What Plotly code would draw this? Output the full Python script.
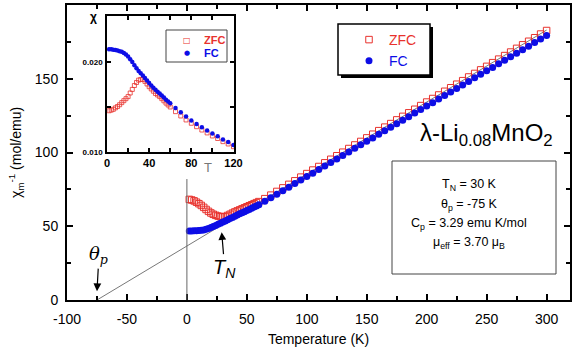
import plotly.graph_objects as go

# ---------------- data ----------------
# main panel: inverse susceptibility (mol/emu) vs temperature (K)
TEMP_LOW = [2, 4, 6, 8, 10, 12, 14, 16, 18, 20, 22, 24, 26, 28, 30,
            32, 34, 36, 38, 40, 42, 44, 46, 48, 50, 52, 54, 56, 58, 60]
TEMP_HIGH = [65, 70, 75, 80, 85, 90, 95, 100, 105, 110, 115, 120, 125, 130,
             135, 140, 145, 150, 155, 160, 165, 170, 175, 180, 185, 190, 195,
             200, 205, 210, 215, 220, 225, 230, 235, 240, 245, 250, 255, 260,
             265, 270, 275, 280, 285, 290, 295, 300]

ZFC_INV_LOW = [68.2, 67.8, 67.2, 66.3, 65.3, 64.1, 62.8, 61.4, 60.1, 59.0,
               58.1, 57.4, 56.9, 56.5, 56.3, 56.6, 57.3, 58.1, 58.9, 59.7,
               60.4, 61.1, 61.8, 62.5, 63.2, 63.9, 64.6, 65.3, 66.0, 66.7]
FC_INV_LOW = [46.8, 46.8, 46.9, 47.0, 47.1, 47.3, 47.5, 47.9, 48.5, 49.2,
              49.8, 50.5, 51.3, 52.0, 52.8, 53.6, 54.4, 55.2, 56.0, 56.8,
              57.6, 58.4, 59.1, 59.9, 60.6, 61.4, 62.2, 63.0, 63.7, 64.5]
ZFC_INV_HIGH = [68.7, 71.1, 73.6, 76.0, 78.4, 80.8, 83.3, 85.7, 88.1, 90.5,
                93.0, 95.4, 97.8, 100.2, 102.7, 105.1, 107.5, 109.9, 112.4,
                114.8, 117.2, 119.6, 122.1, 124.5, 126.9, 129.3, 131.8, 134.2,
                136.6, 139.0, 141.5, 143.9, 146.3, 148.7, 151.2, 153.6, 156.0,
                158.4, 160.9, 163.3, 165.7, 168.1, 170.6, 173.0, 175.4, 177.8,
                180.3, 182.7]
FC_INV_HIGH = [66.9, 69.3, 71.7, 74.1, 76.5, 78.9, 81.3, 83.7, 86.0, 88.4,
               90.8, 93.2, 95.6, 98.0, 100.4, 102.8, 105.2, 107.6, 109.9,
               112.3, 114.7, 117.1, 119.5, 121.9, 124.3, 126.7, 129.1, 131.5,
               133.8, 136.2, 138.6, 141.0, 143.4, 145.8, 148.2, 150.6, 153.0,
               155.4, 157.7, 160.1, 162.5, 164.9, 167.3, 169.7, 172.1, 174.5,
               176.9, 179.3]

# Curie-Weiss guide line
FIT_T = [-75, 300]
FIT_INV = [0, 183]

# inset: susceptibility chi vs T
INSET_T = [2, 4, 6, 8, 10, 12, 14, 16, 18, 20, 22, 24, 26, 28, 30,
           32, 34, 36, 38, 40, 42, 44, 46, 48, 50, 52, 54, 56, 58, 60,
           65, 70, 75, 80, 85, 90, 95, 100, 105, 110, 115, 120]
INSET_FC = [0.02141, 0.02140, 0.02136, 0.02132, 0.02127, 0.02120, 0.02113,
            0.02100, 0.02082, 0.02060, 0.02030, 0.01998, 0.01963, 0.01930,
            0.01900, 0.01875, 0.01850, 0.01822, 0.01794, 0.01765, 0.01737,
            0.01712, 0.01690, 0.01670, 0.01650, 0.01628, 0.01605, 0.01580,
            0.01560, 0.01540,
            0.01488, 0.01440, 0.01395, 0.01350, 0.01310, 0.01274, 0.01240,
            0.01205, 0.01175, 0.01140, 0.01110, 0.01078]
INSET_ZFC = [0.01458, 0.01465, 0.01474, 0.01490, 0.01505, 0.01525, 0.01548,
             0.01570, 0.01592, 0.01615, 0.01655, 0.01695, 0.01738, 0.01772,
             0.01798, 0.01806, 0.01805, 0.01784, 0.01755, 0.01725, 0.01700,
             0.01675, 0.01650, 0.01633, 0.01615, 0.01592, 0.01568, 0.01543,
             0.01522, 0.01500,
             0.01448, 0.01400, 0.01356, 0.01319, 0.01281, 0.01244, 0.01212,
             0.01178, 0.01150, 0.01115, 0.01089, 0.01059]

X_TICKS = [-100, -50, 0, 50, 100, 150, 200, 250, 300]
X_TICK_TEXT = ["-100", "-50", "0", "50", "100", "150", "200", "250", "300"]
Y_TICKS = [0, 50, 100, 150, 200]
INSET_X_TICKS = [0, 20, 40, 60, 80, 100, 120]
INSET_X_TEXT = ["0", "", "40", "", "80", "", "120"]
INSET_Y_TICKS = [0.010, 0.015, 0.020, 0.025]
INSET_Y_TEXT = ["0.010", "", "0.020", ""]

T_N = 30
THETA_P = -75

# ---------------- styling ----------------
FONT = "Arial, Liberation Sans, sans-serif"
RED = "#e8322d"
BLUE = "#0d0de6"

W, H = 572, 352
ML, MR, MT, MB = 67, 2, 5, 52
PW, PH = W - ML - MR, H - MT - MB


def px(x):
    return (x - ML) / PW


def py(y):
    return (H - MB - y) / PH


fig = go.Figure()

fig.add_trace(go.Scatter(
    x=FIT_T, y=FIT_INV, mode="lines", line=dict(color="#555555", width=0.8),
    showlegend=False, hoverinfo="skip"))

fig.add_trace(go.Scatter(
    x=TEMP_LOW + TEMP_HIGH, y=ZFC_INV_LOW + ZFC_INV_HIGH, mode="markers",
    name="<span style='color:%s'>ZFC</span>" % RED,
    marker=dict(symbol="square-open", size=6.5, color=RED, line=dict(width=1))))
fig.add_trace(go.Scatter(
    x=TEMP_LOW + TEMP_HIGH, y=FC_INV_LOW + FC_INV_HIGH, mode="markers",
    name="<span style='color:%s'>FC</span>" % BLUE,
    marker=dict(symbol="circle", size=7, color=BLUE)))

fig.add_trace(go.Scatter(
    x=INSET_T, y=INSET_ZFC, mode="markers", xaxis="x2", yaxis="y2",
    showlegend=False, name="ZFC",
    marker=dict(symbol="square-open", size=4, color=RED, line=dict(width=0.8))))
fig.add_trace(go.Scatter(
    x=INSET_T, y=INSET_FC, mode="markers", xaxis="x2", yaxis="y2",
    showlegend=False, name="FC",
    marker=dict(symbol="circle", size=4.5, color=BLUE)))

axis_common = dict(showline=True, linecolor="black", linewidth=2,
                   mirror="ticks", ticks="inside", ticklen=6, tickwidth=2,
                   tickcolor="black", showgrid=False, zeroline=False,
                   automargin=False,
                   tickfont=dict(family=FONT, size=14, color="black"))

fig.update_layout(
    width=W, height=H,
    margin=dict(l=ML, r=MR, t=MT, b=MB, autoexpand=False),
    paper_bgcolor="white", plot_bgcolor="white",
    font=dict(family=FONT, color="black"),
    xaxis=dict(range=[-100, 319.5], tickvals=X_TICKS, ticktext=X_TICK_TEXT,
               minor=dict(dtick=25, ticks="inside", ticklen=4, tickwidth=1.5,
                          tickcolor="black", tick0=-100),
               title=dict(text="Temperature (K)", font=dict(size=14), standoff=8),
               ticklabelstandoff=5,
               **axis_common),
    yaxis=dict(range=[0, 200], tickvals=Y_TICKS,
               minor=dict(dtick=25, ticks="inside", ticklen=4, tickwidth=1.5,
                          tickcolor="black"),
               title=dict(text="χ<sub>m</sub><sup>-1</sup> (mol/emu)",
                          font=dict(size=14), standoff=10),
               ticklabelstandoff=4,
               **axis_common),
    xaxis2=dict(domain=[px(107), px(234)], anchor="y2", range=[0, 120.5],
                tickvals=INSET_X_TICKS, ticktext=INSET_X_TEXT,
                showline=True, linecolor="black", linewidth=1.5, mirror="ticks",
                ticks="inside", ticklen=4, tickwidth=1.5, tickcolor="black",
                showgrid=False, zeroline=False, automargin=False,
                tickfont=dict(family=FONT, size=11, color="black", weight="bold")),
    yaxis2=dict(domain=[py(152), py(16)], anchor="x2", range=[0.010, 0.0251],
                tickvals=INSET_Y_TICKS, ticktext=INSET_Y_TEXT,
                showline=True, linecolor="black", linewidth=1.5, mirror="ticks",
                ticks="inside", ticklen=4, tickwidth=1.5, tickcolor="black",
                showgrid=False, zeroline=False, ticklabelstandoff=1,
                automargin=False,
                tickfont=dict(family=FONT, size=8, color="black", weight="bold")),
    legend=dict(x=px(349), y=py(24), xanchor="left", yanchor="top",
                bgcolor="rgba(0,0,0,0)", borderwidth=0,
                font=dict(family=FONT, size=14), tracegroupgap=0),
)

shapes = [
    # vertical guide at T = 0
    dict(type="line", xref="x", yref="y", x0=0, x1=0, y0=0, y1=82,
         line=dict(color="#666666", width=1)),
    # legend shadow + box
    dict(type="rect", xref="paper", yref="paper", x0=px(341), x1=px(433),
         y0=py(78), y1=py(27), fillcolor="black", line=dict(width=0)),
    dict(type="rect", xref="paper", yref="paper", x0=px(338), x1=px(430),
         y0=py(75), y1=py(24), fillcolor="white",
         line=dict(color="black", width=1.5)),
    # inset legend box
    dict(type="rect", xref="paper", yref="paper", x0=px(166), x1=px(227),
         y0=py(62), y1=py(30), fillcolor="white",
         line=dict(color="#444444", width=1)),
    # parameter box
    dict(type="rect", xref="paper", yref="paper", x0=px(392), x1=px(556),
         y0=py(274), y1=py(161), fillcolor="white",
         line=dict(color="#444444", width=1)),
]
fig.update_layout(shapes=shapes)

ann = []
for txt, yy in [("T<sub>N</sub> = 30 K", 185),
                ("θ<sub>p</sub> = -75 K", 205),
                ("C<sub>p</sub> = 3.29 emu K/mol", 224),
                ("μ<sub>eff</sub> = 3.70 μ<sub>B</sub>", 243)]:
    ann.append(dict(text=txt, xref="paper", yref="paper", x=px(469), y=py(yy),
                    showarrow=False, xanchor="center", yanchor="middle",
                    font=dict(family=FONT, size=12.5, color="black")))
ann.append(dict(text="λ-Li<sub>0.08</sub>MnO<sub>2</sub>", xref="paper",
                yref="paper", x=px(486), y=py(134), showarrow=False,
                xanchor="center", yanchor="middle",
                font=dict(family=FONT, size=24, color="black")))
ann.append(dict(text="<b>χ</b>", xref="paper", yref="paper", x=px(93),
                y=py(17), showarrow=False, xanchor="center", yanchor="middle",
                font=dict(family=FONT, size=12, color="black")))
ann.append(dict(text="T", xref="paper", yref="paper", x=px(208), y=py(168),
                showarrow=False, xanchor="center", yanchor="middle",
                font=dict(family=FONT, size=13, color="#777777")))
# inset legend (drawn as text)
ann.append(dict(text="□", xref="paper", yref="paper", x=px(187), y=py(40),
                showarrow=False, xanchor="center", yanchor="middle",
                font=dict(family="DejaVu Sans", size=8, color=RED)))
ann.append(dict(text="●", xref="paper", yref="paper", x=px(187), y=py(53),
                showarrow=False, xanchor="center", yanchor="middle",
                font=dict(family="DejaVu Sans", size=7, color=BLUE)))
ann.append(dict(text="<b>ZFC</b>", xref="paper", yref="paper", x=px(202),
                y=py(40), showarrow=False, xanchor="left", yanchor="middle",
                font=dict(family=FONT, size=11, color=RED)))
ann.append(dict(text="<b>FC</b>", xref="paper", yref="paper", x=px(202),
                y=py(53), showarrow=False, xanchor="left", yanchor="middle",
                font=dict(family=FONT, size=11, color=BLUE)))
# arrows
ann.append(dict(text="<i>θ<sub>p</sub></i>", x=THETA_P, y=6, xref="x",
                yref="y", showarrow=True, ax=2, ay=-36, arrowhead=2,
                arrowsize=1.3, arrowwidth=1.2, arrowcolor="black", standoff=0,
                font=dict(family="DejaVu Serif, serif", size=18, color="black")))
ann.append(dict(text="<i>T<sub>N</sub></i>", x=29, y=46, xref="x",
                yref="y", showarrow=True, ax=3, ay=36, arrowhead=2,
                arrowsize=1.3, arrowwidth=1.2, arrowcolor="black", standoff=0,
                font=dict(family=FONT, size=20, color="black")))
fig.update_layout(annotations=ann)

fig.write_html("out.html",
               config={"displayModeBar": False},
               post_script="document.body.style.margin='0';"
                           "document.body.style.padding='0';")
